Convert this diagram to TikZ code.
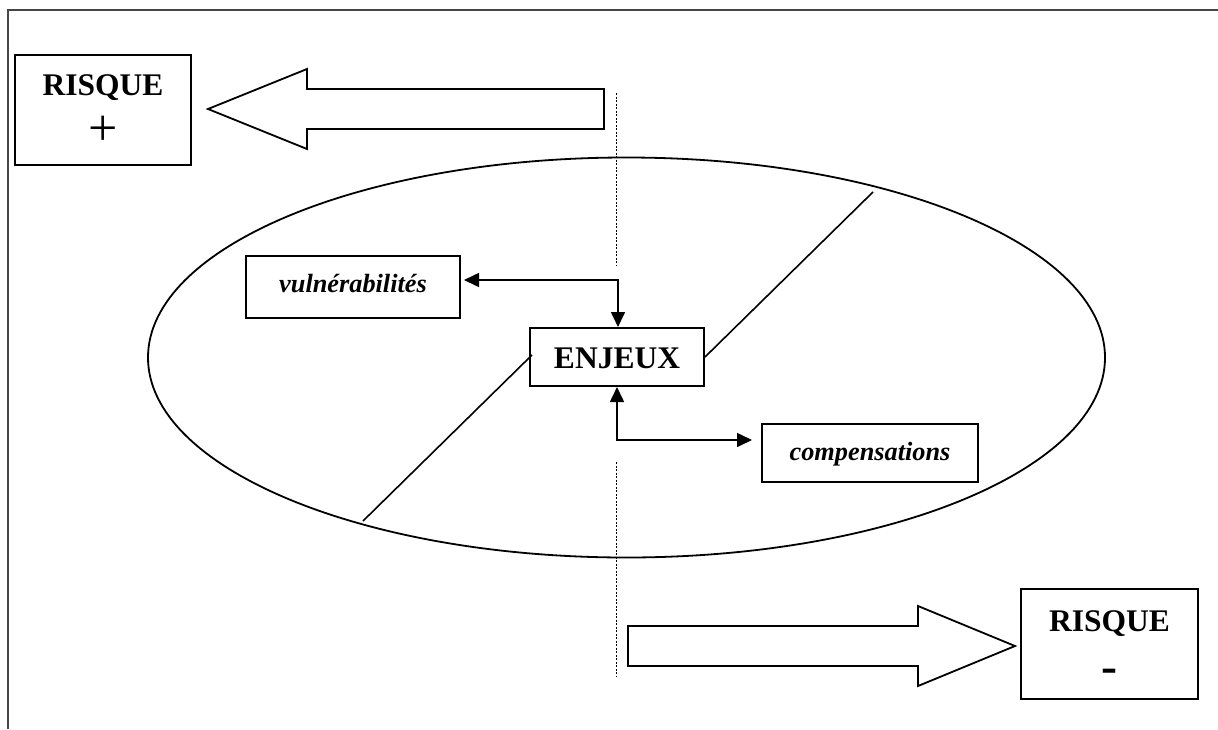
\documentclass[tikz,border=0pt]{standalone}
\usepackage{fontspec}
\setmainfont{Liberation Serif}
\usetikzlibrary{arrows.meta}
\begin{document}
\begin{tikzpicture}[x=1pt,y=-1pt,
  box/.style={draw, line width=2pt, inner sep=0pt},
  lbl/.style={inner sep=0pt, anchor=base},
  bigbold/.style={lbl, font=\fontsize{31.5}{31.5}\selectfont\bfseries},
  itbold/.style={lbl, font=\fontsize{26.3}{26.3}\selectfont\bfseries\itshape},
  blockarrow/.style={draw, line width=1.8pt, line join=miter},
  conn/.style={line width=1.6pt, {Triangle[length=15pt,width=14pt]}-{Triangle[length=15pt,width=14pt]}},
  split/.style={line width=1.6pt},
  axis/.style={line width=0.7pt, dash pattern=on 2pt off 1.5pt},
  frameline/.style={line width=1.6pt, gray!55!black}]
\useasboundingbox (0,0) rectangle (1218,729);
% frame
\draw[frameline] (8,729) -- (8,10) -- (1218,10);
% dotted axis
\draw[axis] (616,93) -- (616,266);
\draw[axis] (616,462) -- (616,677);
% ellipse
\draw[line width=1.8pt] (626.5,357.5) ellipse [x radius=478.5pt, y radius=200pt];
% boxes
\node[box, minimum width=176pt, minimum height=110pt] (rplus) at (103,110) {};
\node[bigbold] (rplust) at (103,95) {RISQUE};
\node[inner sep=0pt, font=\fontsize{52}{52}\selectfont] (plus) at (103,131) {+};
\node[box, minimum width=177pt, minimum height=110pt] (rminus) at (1109.5,644) {};
\node[bigbold] (rminust) at (1109.5,631) {RISQUE};
\node[lbl, font=\fontsize{48}{48}\selectfont\bfseries] (minus) at (1109,682) {-};
\node[box, minimum width=214pt, minimum height=62pt] (vuln) at (353,287) {};
\node[itbold] (vulnt) at (353,292) {vulnérabilités};
\node[box, minimum width=174pt, minimum height=58pt] (enj) at (617,357) {};
\node[bigbold] (enjt) at (617,368) {ENJEUX};
\node[box, minimum width=216pt, minimum height=58pt] (comp) at (870,453) {};
\node[itbold] (compt) at (870,460) {compensations};
% block arrows
\draw[blockarrow] (604,89) -- (307,89) -- (307,69) -- (208,109) -- (307,149) -- (307,129) -- (604,129) -- cycle;
\draw[blockarrow] (628,626) -- (918,626) -- (918,606) -- (1015,646) -- (918,686) -- (918,666) -- (628,666) -- cycle;
% connectors
\draw[conn, shorten <=3pt] ([yshift=7pt]vuln.east) -| ([xshift=1pt]enj.north);
\draw[conn, shorten >=9pt] (enj.south) |- ([yshift=13pt]comp.west);
% split lines
\coordinate (lowend) at (363,521);
\coordinate (upend) at (873,192);
\draw[split] (lowend) -- ([xshift=3pt,yshift=2pt]enj.west);
\draw[split] (enj.east) -- (upend);
\end{tikzpicture}
\end{document}
